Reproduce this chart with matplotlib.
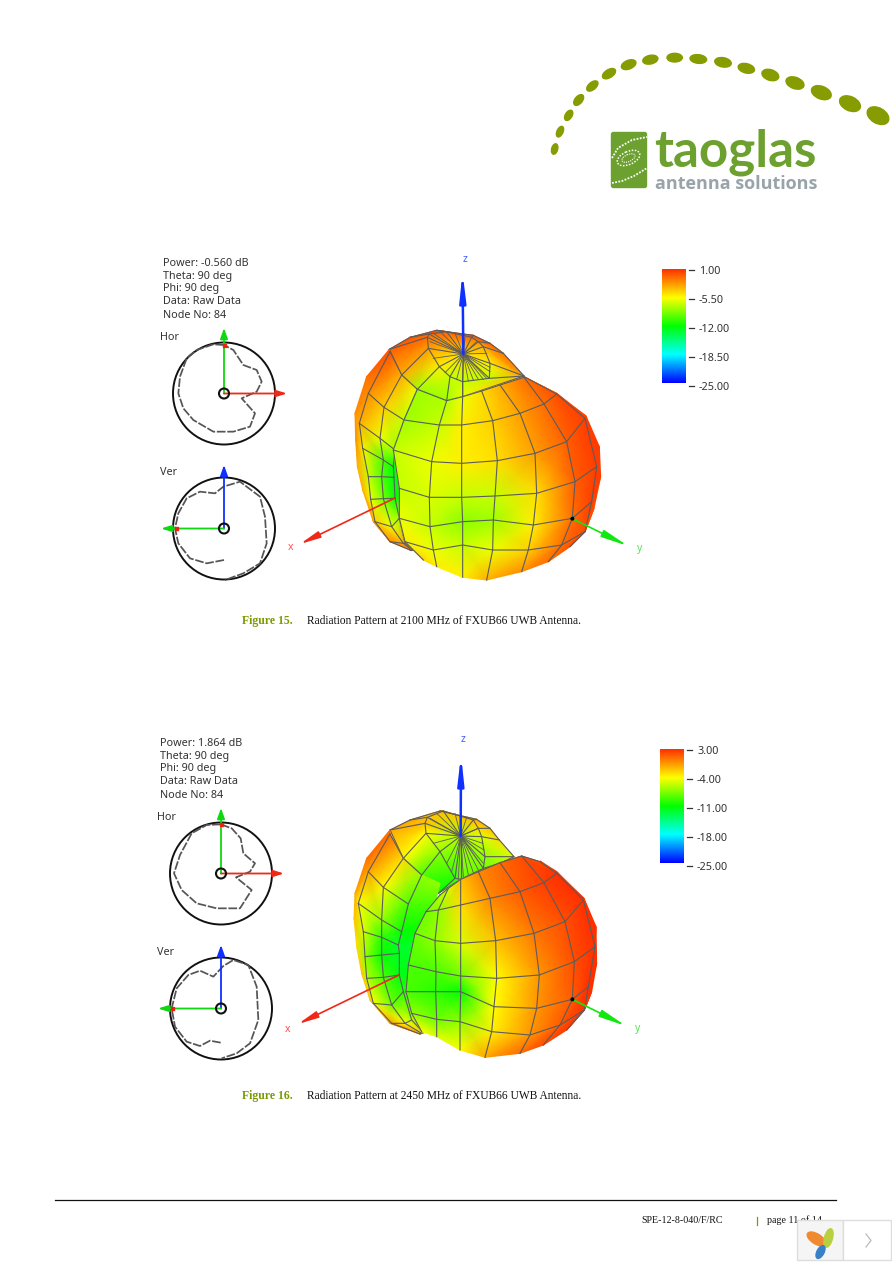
import numpy as np
import matplotlib
matplotlib.use('Agg')
import matplotlib.pyplot as plt
from matplotlib.colors import LinearSegmentedColormap, Normalize
from matplotlib.patches import Circle, Ellipse, FancyBboxPatch, Rectangle

# ---------------- text ----------------
info15 = ['Power: -0.560 dB', 'Theta: 90 deg', 'Phi: 90 deg', 'Data: Raw Data', 'Node No: 84']
info16 = ['Power: 1.864 dB', 'Theta: 90 deg', 'Phi: 90 deg', 'Data: Raw Data', 'Node No: 84']
ticks15 = [1.00, -5.50, -12.00, -18.50, -25.00]
ticks16 = [3.00, -4.00, -11.00, -18.00, -25.00]

# ---------------- figure 15 surface: nodes are crop pixels, values dB ----------------
pole15 = (370, 312)
ring1_15 = [(368,395),(330,380),(298,350),(265,295),(262,262),(268,252),(320,245),(395,262),(415,275),(430,290),(450,340),(448,385),(368,395)]
ring2_15 = [(368,440),(320,452),(232,418),(185,375),(148,298),(210,262),(290,241),(400,256),(450,280),(490,310),(552,378),(552,378),(368,440)]
cap15_db = [[-4.5]*13,
            [-7,-7,-5,-2.5,-1,-1,-0.5,-1,-2,-3,-5,-7,-7],
            [-6,-8,-8,-3,-0.5,0,0,0,-0.5,-1,-2,-3,-6]]
spokes15 = [(350,388),(385,393),(400,390),(415,388),(430,388),(440,385),(450,365),(450,352),(440,310),
            (410,275),(375,262),(345,250),(300,245),(280,250),(270,275),(280,325),(315,368)]
# last column of the left sheets runs under the front sheet
left15 = [[(148,298),(150,305),(185,375),(232,418),(280,440)],
          [(80,380),(85,430),(132,472),(192,510),(240,520)],
          [(45,490),(58,520),(120,565),(165,600),(210,610)],
          [(47,570),(68,595),(130,630),(160,650),(210,650)],
          [(52,650),(85,680),(125,680),(162,682),(210,682)],
          [(68,720),(92,748),(130,746),(165,745),(215,745)],
          [(100,815),(105,815),(155,830),(178,805),(220,805)],
          [(150,875),(150,875),(190,880),(195,880),(240,880)],
          [(210,900),(210,900),(215,900),(220,900),(260,910)]]
left15_db = [[0,0,-3,-6,-6],[-1,-2,-4,-7,-7],[-2,-3,-6,-8,-8],[-2,-5,-10,-12,-12],[-3,-7,-10,-12.5,-12.5],
             [-3,-6,-9,-12,-12],[-2,-4,-6,-8,-8],[-1,-2,-3,-3,-3],[-1,-1,-2,-2,-2]]
front15 = [[(232,418),(320,452),(368,440),(425,423),(480,405),(552,382),(552,380),(552,380)],
           [(192,510),(298,525),(365,525),(458,512),(540,490),(612,462),(650,432),(650,430)],
           [(160,600),(275,635),(365,640),(472,632),(585,610),(680,575),(735,505),(738,498)],
           [(178,715),(268,742),(365,742),(465,738),(590,730),(705,695),(770,650),(778,590)],
           [(178,805),(270,830),(368,815),(460,810),(580,825),(697,805),(755,755),(782,680)],
           [(195,875),(280,900),(368,885),(458,900),(565,900),(665,885),(735,845),(762,775)],
           [(250,930),(290,950),(368,982),(440,990),(545,965),(625,935),(690,890),(735,845)]]
front15_db = [[-8,-7.5,-6,-4.5,-3,-1,-1,-1],
              [-8,-7,-5,-4,-2.5,-1,0,0],
              [-7,-6,-5,-4.5,-2.5,-0.5,0.5,0.5],
              [-7,-6.5,-7,-7,-4.5,-0.5,0.5,0.5],
              [-6,-7,-8.5,-8,-5,-1,0.5,0.5],
              [-5,-6,-7,-6,-4,-1,0,0],
              [-4,-5,-5,-3,-2,-1,0,0]]

# ---------------- figure 16 surface ----------------
pole16 = (362, 318)
ring1_16 = [(362,448),(345,445),(300,365),(258,310),(255,280),(262,262),(310,243),(400,270),(415,295),(425,320),(435,380),(430,415),(362,448)]
ring2_16 = [(362,448),(295,490),(245,435),(190,385),(150,300),(210,270),(300,243),(410,268),(450,295),(478,330),(522,380),(480,400),(362,448)]
cap16_db = [[-6]*13,
            [-8,-10,-7,-4,-2,-2,-2,-2,-3,-5,-7,-8,-8],
            [-8,-11,-9,-4,-1,-1,-1,-1,-2,-3,-5,-7,-8]]
spokes16 = [(355,448),(370,440),(385,435),(400,428),(415,420),(430,400),(432,360),(428,340),(415,295),
            (380,262),(345,250),(290,250),(270,265),(280,340),(320,400),(335,425)]
left16 = [[(150,300),(150,312),(190,385),(245,435),(300,460)],
          [(80,385),(85,425),(130,472),(205,522),(285,522)],
          [(45,490),(55,520),(125,570),(185,605),(250,605)],
          [(42,565),(70,605),(125,622),(175,645),(240,645)],
          [(50,650),(75,680),(125,675),(178,670),(230,670)],
          [(65,730),(80,745),(130,742),(178,735),(220,735)],
          [(90,810),(100,820),(155,825),(190,785),(220,785)],
          [(150,880),(155,880),(195,880),(215,870),(250,870)],
          [(240,912),(240,912),(245,910),(250,908),(270,908)]]
left16_db = [[1,1,-3,-7,-7],[1,-1,-4,-9,-9],[-1,-4,-7,-11,-11],[-2,-5,-10,-12,-12],[-3,-7,-11,-12,-12],
             [-2,-6,-9,-11.5,-11.5],[-2,-4,-8,-10,-10],[0,-1,-4,-6,-6],[0,0,-2,-3,-3]]
front16 = [[(300,495),(325,475),(362,448),(415,425),(480,398),(545,378),(600,395),(600,393)],
           [(258,545),(295,540),(362,525),(450,505),(540,485),(612,458),(650,430),(650,425)],
           [(225,610),(285,632),(362,640),(467,632),(582,610),(675,575),(730,510),(732,505)],
           [(205,705),(288,725),(362,738),(470,745),(598,735),(703,695),(765,650),(768,590)],
           [(198,785),(287,785),(362,785),(462,830),(590,835),(697,808),(745,770),(770,700)],
           [(215,850),(290,868),(360,875),(455,905),(570,915),(660,885),(733,840),(755,785)],
           [(245,905),(290,920),(360,960),(435,982),(540,970),(610,945),(680,900),(733,840)]]
front16_db = [[-6,-5,-2,0,1,2,2,2],
              [-8,-7,-3,0,1.5,2.5,3,3],
              [-8,-7,-5,-2,0.5,2,3,3],
              [-9,-9,-8,-4,-0.5,2,3,3],
              [-9,-10,-11,-4,-0.5,1.5,3,3],
              [-7,-8,-7,-3.5,-0.5,1.5,3,3],
              [-4,-5,-4,-1,1,2,2.5,2.5]]

# ---------------- small polar patterns, crop pixels ----------------
hor15 = [(222,285),(190,283),(140,300),(110,325),(90,380),(85,430),(100,475),(130,510),(190,545),(250,545),
         (300,530),(315,490),(275,445),(320,425),(335,395),(320,360),(280,345),(250,300),(222,285)]
ver15 = [(222,930),(170,940),(120,925),(85,880),(75,835),(85,790),(110,745),(150,725),(195,730),(220,710),
         (270,695),(330,740),(345,800),(350,880),(330,940),(280,970),(225,990)]
hor16 = [(212,283),(170,285),(125,310),(90,375),(72,430),(95,480),(140,520),(200,535),(270,535),(305,480),
         (258,442),(300,425),(315,400),(280,370),(272,325),(245,295),(212,283)]
ver16 = [(212,938),(180,932),(150,948),(110,935),(75,890),(65,835),(80,775),(115,735),(150,722),(190,740),
         (220,708),(250,690),(295,705),(320,770),(325,870),(300,940),(260,970),(215,985)]

# ---------------- logo dots: x, y, long axis, short axis, angle (crop pixels) ----------------
logo_x = [44,60,86,116,157,207,266,331,404,475,549,619,691,765,844,930,1014]
logo_y = [327,275,226,180,138,101,74,59,53,57,67,85,105,129,158,191,227]
logo_w = [32,34,34,38,40,44,46,46,46,50,50,50,52,56,62,66,70]
logo_h = [18,18,20,22,22,24,26,26,26,26,28,28,32,34,38,42,46]
logo_a = [-75,-65,-58,-50,-40,-32,-22,-12,0,6,10,14,18,20,22,25,30]

cmap = LinearSegmentedColormap.from_list('pat', ['#0000ff','#00ffff','#00ff00','#ffff00','#ff3000'])

fig = plt.figure(figsize=(8.92, 12.62), dpi=100)
ax = fig.add_axes([0, 0, 1, 1])
ax.set_xlim(0, 892)
ax.set_ylim(1262, 0)
ax.axis('off')

SANS = 'Noto Sans'
SERIF = 'Liberation Serif'
GRID = '#5c5c5c'


def to_page(pts, ox, oy):
    a = np.array(pts, dtype=float)
    return a[..., 0] / 3 + ox, a[..., 1] / 3 + oy


def sheet(nodes, db, norm, ox, oy, z, cols=None, rows=None):
    x, y = to_page(nodes, ox, oy)
    ax.pcolormesh(x, y, np.array(db, dtype=float), shading='gouraud', cmap=cmap, norm=norm, zorder=z)
    if cols is None:
        cols = list(range(x.shape[1]))
    if rows is None:
        rows = list(range(x.shape[0]))
    # longitudes run to the outline, latitudes stop at the last row given
    for c in cols:
        ax.plot(x[:, c], y[:, c], color=GRID, lw=0.8, zorder=z + 0.5)
    for r in rows:
        ax.plot(x[r, cols], y[r, cols], color=GRID, lw=0.8, zorder=z + 0.5)


def arrow(p0, p1, color, z=8, lw=1.6, hl=1.0, hw=0.2, scale=10):
    ax.annotate('', xy=p1, xytext=p0, zorder=z,
                arrowprops=dict(arrowstyle=f'-|>,head_length={hl},head_width={hw}', color=color, lw=lw,
                                mutation_scale=scale, shrinkA=0, shrinkB=0))


def polar_panel(center, radius, crop_origin, pattern, up_color, side_end, side_color, up_end, red_dot):
    ax.add_patch(Circle(center, radius, fc='none', ec='#111111', lw=1.4, zorder=3))
    x, y = to_page(pattern, *crop_origin)
    ax.plot(x, y, color='#555555', lw=1.25, ls=(0, (5, 1)), zorder=4)
    arrow(center, up_end, up_color, z=5, lw=1.3, hl=0.7, hw=0.25, scale=9)
    arrow(center, side_end, side_color, z=5, lw=1.3, hl=0.7, hw=0.22, scale=9)
    ax.add_patch(Rectangle((red_dot[0] - 1.5, red_dot[1] - 1.5), 3, 3, color='#f02010', zorder=6))
    ax.add_patch(Circle(center, 5, fc='none', ec='#111111', lw=1.5, zorder=6))


def pattern_block(pole, ring1, ring2, cap_db, spokes, left, left_db, front, front_db, lim, ox, oy,
                  z_end, x_start, x_end, y_end, xlab, ylab, zlab):
    norm = Normalize(-25, lim)
    cap = [[pole] * len(ring1), ring1, ring2]
    sheet(cap, cap_db, norm, ox, oy, 1)
    px, py = to_page(pole, ox, oy)
    sx, sy = to_page(spokes, ox, oy)
    for a, b in zip(sx, sy):
        ax.plot([px, a], [py, b], color=GRID, lw=0.6, zorder=1.6)
    sheet(left, left_db, norm, ox, oy, 2, cols=[1, 2, 3])
    sheet(front, front_db, norm, ox, oy, 3, cols=list(range(7)), rows=list(range(6)))
    # axes of the 3d view
    arrow((px, py), z_end, '#1030ff', z=8, lw=1.8, hl=1.6, hw=0.18, scale=10)
    arrow(x_start, x_end, '#f02818', z=8, lw=1.2, hl=1.2, hw=0.2, scale=10)
    yx, yy = to_page(y_end[0], ox, oy)
    arrow((yx, yy), y_end[1], '#10e810', z=8, lw=1.2, hl=1.6, hw=0.22, scale=10)
    ax.add_patch(Circle((yx, yy), 1.3, color='black', zorder=9))
    ax.text(*zlab, 'z', color='#4060ff', fontsize=7.5, family=SANS, ha='center', va='center')
    ax.text(*xlab, 'x', color='#ff5050', fontsize=7.5, family=SANS, ha='center', va='center')
    ax.text(*ylab, 'y', color='#50e850', fontsize=7.5, family=SANS, ha='center', va='center')


def colorbar(x0, y0, w, h, lim, labels):
    grad = np.linspace(lim, -25, 256).reshape(-1, 1)
    ax.imshow(grad, extent=(x0, x0 + w, y0 + h, y0), aspect='auto', cmap=cmap, norm=Normalize(-25, lim), zorder=2)
    for i, v in enumerate(labels):
        yy = y0 + 1 + i * (h + 2) / 4
        ax.plot([x0 + 27, x0 + 32], [yy, yy], color='#333333', lw=0.9)
        ax.text(x0 + 37, yy + 1.3, f'{v:.2f}', fontsize=7.8, family=SANS, color='#333333', va='center')


def info(x, y, lines):
    for i, s in enumerate(lines):
        ax.text(x, y + i * 13, s, fontsize=7.8, family=SANS, color='#333333', va='center')


def caption(y, num, freq):
    ax.text(242, y, f'Figure {num}.', fontsize=8.5, family=SERIF, weight='bold', color='#7a9a00', va='center')
    ax.text(307, y, f'Radiation Pattern at {freq} MHz of FXUB66 UWB Antenna.', fontsize=8.32, family=SERIF,
            color='#111111', va='center')


# logo
for lx, ly, lw_, lh, la in zip(logo_x, logo_y, logo_w, logo_h, logo_a):
    cx, cy = to_page((lx, ly), 540, 40)
    ax.add_patch(Ellipse((cx, cy), lw_ / 3, lh / 3, angle=la, color='#869c00', zorder=2))
ax.add_patch(FancyBboxPatch((611.5, 132.5), 35, 55, boxstyle='round,pad=0,rounding_size=2', fc='#6ca02f', ec='#6ca02f', lw=1))
ax.add_patch(Ellipse((628.5, 158), 24, 13, angle=-24, fc='none', ec='white', lw=1.1, ls=(0, (1, 1))))
ax.add_patch(Ellipse((628.5, 158), 14, 7, angle=-24, fc='none', ec='white', lw=0.8, ls=(0, (1, 1))))
ax.plot([612, 622, 634, 647], [183, 181, 176, 168], color='white', lw=1.3, ls=(0, (1, 0.8)))
ax.plot([612, 618, 632, 647], [158, 148, 140, 137], color='white', lw=1.3, ls=(0, (1, 0.8)))
ax.text(654, 166, 'taoglas', fontsize=36.8, family='Lato', weight='bold', color='#6ca02f', va='baseline')
ax.text(655, 189, 'antenna solutions', fontsize=13, family='Open Sans', weight='bold', color='#98a4aa', va='baseline')

# figure 15
info(163, 263, info15)
ax.text(160, 337.5, 'Hor', fontsize=7.8, family=SANS, color='#333333', va='center')
ax.text(160, 472.5, 'Ver', fontsize=7.8, family=SANS, color='#333333', va='center')
polar_panel((224, 393.5), 51, (150, 250), hor15, '#10d810', (287, 393.5), '#f02818', (224, 328), (224, 345))
polar_panel((224, 528.5), 51, (150, 250), ver15, '#1030ff', (161, 528.5), '#10d810', (224, 465), (176, 528.5))
pattern_block(pole15, ring1_15, ring2_15, cap15_db, spokes15, left15, left15_db, front15, front15_db, 1.0, 340, 250,
              (462.5, 272), (395, 498), (300, 544), ((697, 806), (628, 546)), (291, 548), (640, 549), (465, 260))
colorbar(662, 269, 24, 114, 1.0, ticks15)
caption(621, 15, 2100)

# figure 16
info(160, 743, info16)
ax.text(157, 817.5, 'Hor', fontsize=7.8, family=SANS, color='#333333', va='center')
ax.text(157, 952.5, 'Ver', fontsize=7.8, family=SANS, color='#333333', va='center')
polar_panel((221, 873.5), 51, (150, 730), hor16, '#10d810', (284, 873.5), '#f02818', (221, 808), (221, 824))
polar_panel((221, 1008.5), 51, (150, 730), ver16, '#1030ff', (158, 1008.5), '#10d810', (221, 945), (172, 1008.5))
pattern_block(pole16, ring1_16, ring2_16, cap16_db, spokes16, left16, left16_db, front16, front16_db, 3.0, 340, 730,
              (461, 755), (399, 975), (298, 1024), ((697, 808), (626, 1026)), (288, 1029), (638, 1029), (463, 740))
colorbar(660, 749, 24, 114, 3.0, ticks16)
caption(1096, 16, 2450)

# footer
ax.plot([55, 836], [1199.5, 1199.5], color='#111111', lw=0.9)
ax.text(641, 1220.5, 'SPE-12-8-040/F/RC', fontsize=7.2, family=SERIF, color='#111111', va='center')
ax.plot([757, 757], [1217, 1225], color='#7a9a00', lw=0.9)
ax.text(767, 1220.5, 'page 11 of 14', fontsize=7.2, family=SERIF, color='#111111', va='center')

# widget over the corner
ax.add_patch(Rectangle((797, 1220), 46, 39.5, fc='#f5f5f5', ec='#dddddd', lw=1, zorder=10))
ax.add_patch(Rectangle((843, 1220), 48, 39.5, fc='white', ec='#dddddd', lw=1, zorder=10))
ax.add_patch(Ellipse((816.5, 1239), 21, 10, angle=32, color='#f08a30', zorder=11))
ax.add_patch(Ellipse((828.5, 1238), 19, 8, angle=-75, color='#b8d040', zorder=11))
ax.add_patch(Ellipse((820.5, 1252), 14, 7, angle=-62, color='#3880c8', zorder=11))
ax.plot([866, 871, 866], [1234, 1240.5, 1247], color='#bbbbbb', lw=0.9, zorder=11)

ax.set_xlim(0, 892)
ax.set_ylim(1262, 0)
fig.savefig('out.png', dpi=100, facecolor='white')
